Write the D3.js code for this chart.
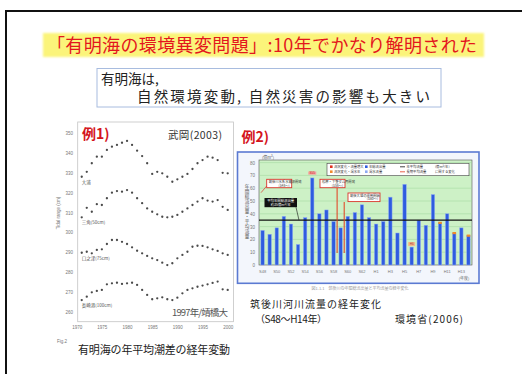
<!DOCTYPE html>
<html>
<head>
<meta charset="utf-8">
<script src="https://cdn.jsdelivr.net/npm/d3@7"></script>
<style>
body { margin: 0; background: #fff; }
svg { display: block; }
.jp { font-family: "Noto Sans CJK JP", "Noto Sans", sans-serif; }
.tiny { font-family: "Liberation Sans", Arial, sans-serif; font-size: 4.5px; fill: #777; }
</style>
</head>
<body>
<div id="slide"></div>
<script>
// ---- data: left chart (annual mean tidal range, Ariake Sea) ----
var tideYears = [1971, 1972, 1973, 1974, 1975, 1976, 1977, 1978, 1979, 1980,
                 1981, 1982, 1983, 1984, 1985, 1986, 1987, 1988, 1989, 1990,
                 1991, 1992, 1993, 1994, 1995, 1996, 1997, 1998, 1999, 2000];
var tideOura = [328.0, 330.5, 334.8, 338.1, 338.1, 341.5, 343.1, 344.0, 345.1, 346.0,
                344.0, 341.1, 338.4, 334.8, 329.4, 330.5, 329.7, 328.0, 325.5, 326.7,
                328.0, 329.4, 331.9, 334.8, 336.4, 338.1, 337.6, 336.4, 330.0, 329.7];
var tideMisumi = [307.6, 312.4, 310.4, 314.2, 313.8, 317.2, 320.0, 320.8, 320.5, 321.3,
                  320.0, 317.2, 314.7, 312.1, 310.4, 309.1, 307.9, 307.6, 307.9, 308.8,
                  310.4, 312.1, 313.8, 315.5, 317.2, 316.0, 315.5, 316.3, 312.9, 311.3];
var tideKuchinotsu = [289.8, 290.3, 289.5, 291.2, 291.5, 294.2, 296.2, 296.2, 295.3, 294.2,
                      292.5, 290.8, 289.5, 288.2, 287.0, 286.1, 284.8, 283.6, 284.5, 287.0,
                      288.7, 290.3, 292.8, 293.3, 293.2, 292.5, 291.5, 290.7, 289.5, 288.7];
var tideNagasaki = [266.0, 267.7, 269.9, 270.6, 271.1, 273.9, 274.4, 274.7, 274.1, 274.4,
                    274.7, 273.6, 271.1, 268.6, 266.4, 266.9, 267.4, 266.4, 266.0, 267.2,
                    269.4, 271.1, 271.9, 272.7, 273.3, 273.9, 274.6, 275.3, 271.4, 271.1];
var tideStations = ["大浦", "三角(50cm)", "口之津(75cm)", "長崎港(100cm)"];
var tideTicks = [350, 340, 330, 320, 310, 300, 290, 280, 270, 260];
var tideYearTicks = [1970, 1975, 1980, 1985, 1990, 1995, 2000];

// ---- data: right chart (Chikugo River annual flow, S48-H14) ----
var flowYears = ["S48", "S49", "S50", "S51", "S52", "S53", "S54", "S55", "S56", "S57",
                 "S58", "S59", "S60", "S61", "S62", "S63", "H1", "H2", "H3", "H4",
                 "H5", "H6", "H7", "H8", "H9", "H10", "H11", "H12", "H13", "H14"];
var flowValues = [27, 24, 29, 38, 32, 16, 37, 68, 40, 43,
                  34, 29, 38, 41, 47, 37, 32, 34, 53, 25,
                  63, 14, 35, 31, 55, 33, 40, 25, 29, 23];
var flowMean = 35;
var flowTicks = [0, 10, 20, 30, 40, 50, 60, 70, 80];
var flowCapYears = ["H10", "H12", "H14"];
var flowEventYears = ["S59", "S60"];
var legendLabels = ["流況変化・流量増大", "年総流出量", "年平均流量", "(億m³/年)",
                    "流況変化・渇水年", "渇水流量", "長期平均流量", "に関する変化"];

var W = 522, H = 374;
var svg = d3.select("#slide").append("svg")
    .attr("width", W)
    .attr("height", H);

// slide frame
svg.append("rect")
    .attr("x", 6).attr("y", 11)
    .attr("width", W + 10).attr("height", H + 10)
    .attr("fill", "#fff")
    .attr("stroke", "#111")
    .attr("stroke-width", 2);

// title with yellow highlight
var defs = svg.append("defs");
defs.append("filter").attr("id", "soft")
    .append("feGaussianBlur").attr("stdDeviation", 1.2);

svg.append("rect")
    .attr("x", 43).attr("y", 33)
    .attr("width", 441).attr("height", 24)
    .attr("fill", "#fbf47a")
    .attr("filter", "url(#soft)");

svg.append("text")
    .attr("class", "jp")
    .attr("x", 47).attr("y", 51.5)
    .attr("font-size", 18)
    .attr("fill", "#e3161d")
    .attr("textLength", 430)
    .text("「有明海の環境異変問題」:10年でかなり解明された");

// message box
svg.append("rect")
    .attr("x", 97).attr("y", 68.5)
    .attr("width", 344).attr("height", 38.5)
    .attr("fill", "#fff")
    .attr("stroke", "#a8bcdf")
    .attr("stroke-width", 1);

svg.append("text")
    .attr("class", "jp")
    .attr("x", 101).attr("y", 84)
    .attr("font-size", 13.5)
    .attr("fill", "#222")
    .text("有明海は,");

svg.append("text")
    .attr("class", "jp")
    .attr("x", 137).attr("y", 101.5)
    .attr("font-size", 14.5)
    .attr("fill", "#222")
    .attr("textLength", 293)
    .text("自然環境変動, 自然災害の影響も大きい");

/**
 * Left chart: four tide-gauge series drawn as dotted traces
 */
function TideChart(svg) {
    var self = this;
    self.svg = svg;
    self.frame = { left: 77.7, right: 233.5, top: 122, bottom: 321.7 };
    self.init();
}

TideChart.prototype.init = function () {
    var self = this;
    self.x = d3.scaleLinear().domain([1970, 2000]).range([76.7, 227.7]);
    self.y = d3.scaleLinear().domain([260, 350]).range([312, 133]);
    self.g = self.svg.append("g");

    self.g.append("rect")
        .attr("x", self.frame.left).attr("y", self.frame.top)
        .attr("width", self.frame.right - self.frame.left)
        .attr("height", self.frame.bottom - self.frame.top)
        .attr("fill", "#fff")
        .attr("stroke", "#c4c4c4")
        .attr("stroke-width", 0.8);
};

TideChart.prototype.update = function () {
    var self = this;
    var g = self.g;

    //y axis labels
    var yAxis = g.append("g")
        .attr("transform", "translate(73,0)")
        .call(d3.axisLeft(self.y).tickValues(tideTicks).tickSize(0).tickPadding(0));
    yAxis.select(".domain").remove();
    yAxis.selectAll("text").attr("class", "tiny").attr("font-size", null).attr("font-family", null);

    var xAxis = g.append("g")
        .attr("transform", "translate(0,326)")
        .call(d3.axisBottom(self.x).tickValues(tideYearTicks).tickFormat(d3.format("d")).tickSize(0).tickPadding(0));
    xAxis.select(".domain").remove();
    xAxis.selectAll("text").attr("class", "tiny").attr("font-size", null).attr("font-family", null);

    g.append("text")
        .attr("class", "tiny")
        .attr("transform", "translate(60,213) rotate(-90)")
        .attr("text-anchor", "middle")
        .text("Tidal range (cm)");

    var series = [tideOura, tideMisumi, tideKuchinotsu, tideNagasaki];

    series.forEach(function (values, k) {
        g.selectAll(".dot" + k)
            .data(values)
            .enter()
            .append("circle")
            .attr("class", "dot" + k)
            .attr("cx", function (d, i) { return self.x(tideYears[i]); })
            .attr("cy", function (d) { return self.y(d); })
            .attr("r", 1.15)
            .attr("fill", "#4a4a4a");

        g.append("text")
            .attr("class", "jp")
            .attr("x", self.x(tideYears[0]))
            .attr("y", self.y(values[0]) + 7)
            .attr("font-size", 4.5)
            .attr("fill", "#555")
            .text(tideStations[k]);
    });

    g.append("text")
        .attr("class", "jp")
        .attr("x", 82).attr("y", 139)
        .attr("font-size", 14)
        .attr("font-weight", "bold")
        .attr("fill", "#d4141c")
        .text("例1)");

    g.append("text")
        .attr("class", "jp")
        .attr("x", 168).attr("y", 139)
        .attr("font-size", 10.5)
        .attr("fill", "#333")
        .attr("textLength", 54)
        .text("武岡(2003)");

    g.append("text")
        .attr("class", "jp")
        .attr("x", 172).attr("y", 316)
        .attr("font-size", 9.5)
        .attr("fill", "#555")
        .attr("textLength", 56)
        .text("1997年/靖橋大");

    g.append("text")
        .attr("class", "tiny")
        .attr("x", 57).attr("y", 343)
        .text("Fig.2");

    g.append("text")
        .attr("class", "jp")
        .attr("x", 78).attr("y", 354)
        .attr("font-size", 11)
        .attr("fill", "#222")
        .attr("textLength", 152)
        .text("有明海の年平均潮差の経年変動");
};

/**
 * Right chart: annual flow bars with mean line and notes
 */
function FlowChart(svg) {
    var self = this;
    self.svg = svg;
    self.box = { left: 237.5, right: 479, top: 152, bottom: 283.3 };
    self.plot = { left: 259, right: 472, top: 160, bottom: 265 };
    self.init();
}

FlowChart.prototype.init = function () {
    var self = this;
    self.x = d3.scaleBand().domain(flowYears).range([self.plot.left, self.plot.right]).padding(0);
    self.y = d3.scaleLinear().domain([0, 80]).range([self.plot.bottom, 162.6]);
    self.g = self.svg.append("g");

    self.g.append("rect")
        .attr("x", self.box.left).attr("y", self.box.top)
        .attr("width", self.box.right - self.box.left)
        .attr("height", self.box.bottom - self.box.top)
        .attr("fill", "#f3f6fc")
        .attr("stroke", "#5b7ad2")
        .attr("stroke-width", 1.6);

    self.g.append("rect")
        .attr("x", self.plot.left).attr("y", self.plot.top)
        .attr("width", self.plot.right - self.plot.left)
        .attr("height", self.plot.bottom - self.plot.top)
        .attr("fill", "#cdf1c6")
        .attr("stroke", "#555")
        .attr("stroke-width", 0.6);
};

FlowChart.prototype.update = function () {
    var self = this;
    var g = self.g;
    var bw = self.x.bandwidth();

    // gridlines
    g.selectAll(".grid")
        .data(flowTicks.slice(1))
        .enter()
        .append("line")
        .attr("class", "grid")
        .attr("x1", self.plot.left).attr("x2", self.plot.right)
        .attr("y1", function (d) { return self.y(d); })
        .attr("y2", function (d) { return self.y(d); })
        .attr("stroke", "#9ed49a")
        .attr("stroke-width", 0.5);

    var yAxis = g.append("g")
        .attr("transform", "translate(255,0)")
        .call(d3.axisLeft(self.y).tickValues(flowTicks).tickSize(0).tickPadding(0));
    yAxis.select(".domain").remove();
    yAxis.selectAll("text").attr("class", "tiny").attr("font-size", null).attr("font-family", null);

    var xAxis = g.append("g")
        .attr("transform", "translate(0,270)")
        .call(d3.axisBottom(self.x)
            .tickValues(flowYears.filter(function (d, i) { return i % 2 === 0; }))
            .tickSize(0).tickPadding(0));
    xAxis.select(".domain").remove();
    xAxis.selectAll("text").attr("class", "tiny").attr("font-size", null).attr("font-family", null)
        .style("font-size", "4px");

    g.append("text")
        .attr("class", "jp")
        .attr("x", self.plot.right - 8).attr("y", 280)
        .attr("font-size", 4)
        .attr("fill", "#666")
        .attr("text-anchor", "middle")
        .text("(年度)");

    g.append("text")
        .attr("class", "jp")
        .attr("x", 262).attr("y", 158.5)
        .attr("font-size", 4)
        .attr("fill", "#555")
        .text("(億m³)");

    // vertical axis title, one glyph per line
    var title = "年間総流出量・平均流量".split("");
    g.selectAll(".ytitle")
        .data(title)
        .enter()
        .append("text")
        .attr("class", "jp ytitle")
        .attr("x", 247)
        .attr("y", function (d, i) { return 188 + i * 5; })
        .attr("font-size", 4.6)
        .attr("fill", "#555")
        .attr("text-anchor", "middle")
        .text(function (d) { return d; });

    // bars
    g.selectAll(".bar")
        .data(flowValues)
        .enter()
        .append("rect")
        .attr("class", "bar")
        .attr("x", function (d, i) { return self.x(flowYears[i]) + bw / 2 - 1.7; })
        .attr("y", function (d) { return self.y(d); })
        .attr("width", 3.4)
        .attr("height", function (d) { return self.plot.bottom - self.y(d); })
        .attr("fill", "#2f5ce0")
        .attr("stroke", "#8ea9f2")
        .attr("stroke-width", 0.5);

    g.selectAll(".cap")
        .data(flowCapYears)
        .enter()
        .append("rect")
        .attr("class", "cap")
        .attr("x", function (d) { return self.x(d) + bw / 2 - 1.8; })
        .attr("y", function (d) { return self.y(flowValues[flowYears.indexOf(d)]) - 1; })
        .attr("width", 3.6)
        .attr("height", 2.2)
        .attr("fill", "#f08a2a");

    // mean line
    g.append("line")
        .attr("x1", self.plot.left).attr("x2", self.plot.right)
        .attr("y1", self.y(flowMean)).attr("y2", self.y(flowMean))
        .attr("stroke", "#111")
        .attr("stroke-width", 1.2);

    // event lines
    var evTop = [188, 202];
    g.selectAll(".event")
        .data(flowEventYears)
        .enter()
        .append("line")
        .attr("class", "event")
        .attr("x1", function (d) { return self.x(d); })
        .attr("x2", function (d) { return self.x(d); })
        .attr("y1", function (d, i) { return evTop[i]; })
        .attr("y2", 253)
        .attr("stroke", "#e33a1c")
        .attr("stroke-width", 1);

    // note boxes
    function note(x, y, w, h, lines, stroke, fill, color) {
        g.append("rect")
            .attr("x", x).attr("y", y).attr("width", w).attr("height", h)
            .attr("fill", fill).attr("stroke", stroke).attr("stroke-width", 0.9);
        lines.forEach(function (t, i) {
            g.append("text")
                .attr("class", "jp")
                .attr("x", i === 0 ? x + 2 : x + w - 2)
                .attr("y", y + 3.8 + i * 3.6)
                .attr("font-size", 3.3)
                .attr("text-anchor", i === 0 ? "start" : "end")
                .attr("fill", color)
                .text(t);
        });
    }
    note(266.7, 179.3, 25, 8.4, ["筑後川水系水資源開発", "(S48〜)"], "#d9352a", "#fff", "#333");
    note(320, 179.3, 25, 8.4, ["松原・下筌ダム再開発", "(S58〜)"], "#d9352a", "#fff", "#333");
    note(348, 193, 32, 8.6, ["筑後大堰の運用開始", "(S60〜)"], "#d9352a", "#fff", "#333");

    g.append("path")
        .attr("d", "M266.7,186 L261,192.7")
        .attr("stroke", "#d9352a").attr("stroke-width", 0.7).attr("fill", "none");

    g.append("rect")
        .attr("x", 264.5).attr("y", 198).attr("width", 32.5).attr("height", 9.2)
        .attr("fill", "#111");
    g.append("text").attr("class", "jp")
        .attr("x", 280.7).attr("y", 202).attr("font-size", 3.4)
        .attr("text-anchor", "middle").attr("fill", "#fff")
        .text("平均年間総流出量");
    g.append("text").attr("class", "jp")
        .attr("x", 280.7).attr("y", 205.8).attr("font-size", 3.4)
        .attr("text-anchor", "middle").attr("fill", "#fff")
        .text("約35億m³/年");
    g.append("line")
        .attr("x1", 296).attr("y1", 207.2)
        .attr("x2", 299).attr("y2", self.y(flowMean))
        .attr("stroke", "#111").attr("stroke-width", 0.6);

    // flagged years
    var wet = "S55", dry = "H6";
    g.append("rect")
        .attr("x", self.x(wet) + bw / 2 - 4).attr("y", self.y(flowValues[flowYears.indexOf(wet)]) - 6.5)
        .attr("width", 8).attr("height", 3.2)
        .attr("fill", "#f4a0a0");
    g.append("text").attr("class", "tiny")
        .attr("x", self.x(wet) + bw / 2).attr("y", self.y(flowValues[flowYears.indexOf(wet)]) - 4)
        .attr("text-anchor", "middle").style("font-size", "3px").style("fill", "#c21")
        .text(wet);
    g.append("rect")
        .attr("x", self.x(dry) + bw / 2 - 3.5).attr("y", self.y(flowValues[flowYears.indexOf(dry)]) - 5)
        .attr("width", 7).attr("height", 4)
        .attr("fill", "#f6b98a");
    g.append("text").attr("class", "tiny")
        .attr("x", self.x(dry) + bw / 2).attr("y", self.y(flowValues[flowYears.indexOf(dry)]) - 2)
        .attr("text-anchor", "middle").style("font-size", "3px").style("fill", "#a33")
        .text(dry);

    // legend
    var lg = g.append("g").attr("transform", "translate(327,163.3)");
    lg.append("rect")
        .attr("width", 142).attr("height", 12.4)
        .attr("fill", "#fff").attr("stroke", "#444").attr("stroke-width", 0.6);
    var swatch = ["#e0301e", "#2f5ce0", "#111", null, "#f08a2a", "#8ea9f2", "#e33a1c", null];
    var item = lg.selectAll(".lg")
        .data(legendLabels)
        .enter()
        .append("g")
        .attr("class", "lg")
        .attr("transform", function (d, i) {
            return "translate(" + (3 + (i % 4) * 35) + "," + (i < 4 ? 4.5 : 9.5) + ")";
        });
    item.each(function (d, i) {
        var s = d3.select(this);
        if (swatch[i] && (i % 4) < 2) {
            s.append("rect").attr("x", 0).attr("y", -2.4).attr("width", 2.6).attr("height", 2.6)
                .attr("fill", swatch[i]);
        } else if (swatch[i]) {
            s.append("line").attr("x1", 0).attr("x2", 5).attr("y1", -1).attr("y2", -1)
                .attr("stroke", swatch[i]).attr("stroke-width", 0.8);
        }
        s.append("text").attr("class", "jp")
            .attr("x", swatch[i] ? ((i % 4) < 2 ? 4 : 6.5) : 0).attr("y", 0)
            .attr("font-size", 3.3).attr("fill", "#333")
            .text(d);
    });

    // labels around the chart
    g.append("text")
        .attr("class", "jp")
        .attr("x", 241.5).attr("y", 141.5)
        .attr("font-size", 14)
        .attr("font-weight", "bold")
        .attr("fill", "#d4141c")
        .text("例2)");

    g.append("text")
        .attr("class", "jp")
        .attr("x", 360).attr("y", 290)
        .attr("font-size", 4)
        .attr("fill", "#999")
        .attr("text-anchor", "middle")
        .text("図1.1.1　筑後川の年間総流出量と平均流量の経年変化");

    g.append("text")
        .attr("class", "jp")
        .attr("x", 250).attr("y", 308)
        .attr("font-size", 10)
        .attr("fill", "#222")
        .attr("textLength", 131)
        .text("筑後川河川流量の経年変化");

    g.append("text")
        .attr("class", "jp")
        .attr("x", 255).attr("y", 323)
        .attr("font-size", 10)
        .attr("fill", "#222")
        .attr("textLength", 72)
        .text("（S48〜H14年）");

    g.append("text")
        .attr("class", "jp")
        .attr("x", 395).attr("y", 323)
        .attr("font-size", 10)
        .attr("fill", "#222")
        .attr("textLength", 68)
        .text("環境省(2006)");
};

var tide = new TideChart(svg);
tide.update();
var flow = new FlowChart(svg);
flow.update();
</script>
</body>
</html>
